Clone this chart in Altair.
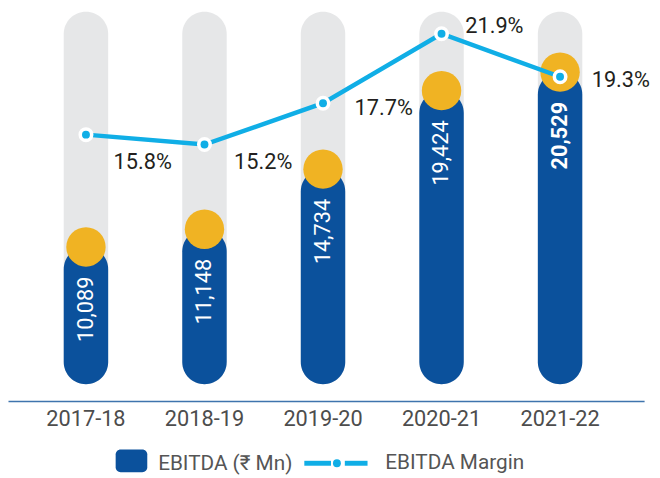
import altair as alt
import pandas as pd

years = ["2017-18", "2018-19", "2019-20", "2020-21", "2021-22"]
ebitda = [10089, 11148, 14734, 19424, 20529]
margin = [15.8, 15.2, 17.7, 21.9, 19.3]
margin_labels = ["15.8%", "15.2%", "17.7%", "21.9%", "19.3%"]

df = pd.DataFrame({"year": years, "ebitda": ebitda, "margin": margin, "mlabel": margin_labels})

FONT = "Roboto, Noto Sans, DejaVu Sans"
BLUE = "#0b519c"
YELLOW = "#f0b323"
GRAY = "#e6e7e8"
CYAN = "#10aee6"

W, H = 644, 395
BAR_W = 45
BAR_BASE = 1888   # value where the rounded bar ends sit (bar scale)
PILLAR_TOP = 24130

xenc = alt.X("year:N", sort=years,
             scale=alt.Scale(type="band", paddingInner=0, paddingOuter=0.1833, align=0.43),
             axis=alt.Axis(title=None, labelAngle=0, ticks=False, tickSize=0, grid=False,
                           domainColor="#3f74ad", domainWidth=1.5, labelFont=FONT,
                           labelFontSize=22, labelColor="#4d4d4d", labelPadding=8))

bscale = alt.Scale(domain=[885, 24189], nice=False, zero=False)
yb = alt.Y("ebitda:Q", scale=bscale, axis=None)
ym = alt.Y("margin:Q", scale=alt.Scale(domain=[-0.3, 23.28], nice=False, zero=False), axis=None)

base = alt.Chart(df)

pillar = base.mark_bar(width=BAR_W, cornerRadius=22.5, color=GRAY).encode(
    x=xenc, y=alt.Y(datum=PILLAR_TOP, scale=bscale, axis=None), y2=alt.datum(BAR_BASE))
bar = base.mark_bar(width=BAR_W, cornerRadius=22.5, color=BLUE).encode(
    x=xenc, y=yb, y2=alt.datum(BAR_BASE))
cap = base.mark_circle(size=1590, opacity=1, color=YELLOW).encode(x=xenc, y=yb)

blabel = base.transform_filter(alt.datum.year != "2021-22").mark_text(
    angle=270, align="right", baseline="middle", dx=-30, fontSize=22, font=FONT,
    color="white").encode(x=xenc, y=yb, text=alt.Text("ebitda:Q", format=","))
blabel_b = base.transform_filter(alt.datum.year == "2021-22").mark_text(
    angle=270, align="right", baseline="middle", dx=-30, fontSize=22, font=FONT,
    fontWeight="bold", color="white").encode(x=xenc, y=yb, text=alt.Text("ebitda:Q", format=","))

bars = alt.layer(pillar, bar, cap, blabel, blabel_b)

line = base.mark_line(color=CYAN, strokeWidth=4.5).encode(x=xenc, y=ym)
ring = base.mark_circle(size=230, color="white", opacity=1).encode(x=xenc, y=ym)
dot = base.mark_circle(size=64, color=CYAN, opacity=1).encode(x=xenc, y=ym)

offsets = {"2017-18": (28, 35), "2018-19": (30, 25), "2019-20": (32, 12),
           "2020-21": (24, -1), "2021-22": (32, 10)}
mlabels = []
for yr, (ddx, ddy) in offsets.items():
    mlabels.append(base.transform_filter(alt.datum.year == yr).mark_text(
        align="left", baseline="alphabetic", dx=ddx, dy=ddy, fontSize=22, font=FONT,
        color="#231f20").encode(x=xenc, y=ym, text="mlabel:N"))

lines = alt.layer(line, ring, dot, *mlabels)

one = alt.Data(values=[{"k": 0}])
leg_sq = alt.Chart(one).mark_rect(color=BLUE, cornerRadius=5).encode(
    x=alt.value(109), x2=alt.value(141), y=alt.value(444), y2=alt.value(467))
leg_t1 = alt.Chart(one).mark_text(align="left", baseline="alphabetic", fontSize=21, font=FONT,
                                  color="#555555", text="EBITDA (₹ Mn)").encode(
    x=alt.value(152), y=alt.value(465))
leg_l1 = alt.Chart(one).mark_rule(color=CYAN, strokeWidth=5).encode(
    x=alt.value(300), x2=alt.value(327), y=alt.value(458))
leg_l2 = alt.Chart(one).mark_rule(color=CYAN, strokeWidth=5).encode(
    x=alt.value(341), x2=alt.value(364), y=alt.value(458))
leg_dot = alt.Chart(one).mark_circle(size=64, color=CYAN, opacity=1).encode(
    x=alt.value(333), y=alt.value(458))
leg_t2 = alt.Chart(one).mark_text(align="left", baseline="alphabetic", fontSize=21, font=FONT,
                                  color="#555555", text="EBITDA Margin").encode(
    x=alt.value(382), y=alt.value(464))

chart = alt.layer(bars, lines, leg_sq, leg_t1, leg_l1, leg_l2, leg_dot, leg_t2).resolve_scale(
    y="independent").properties(
    width=W, height=H,
    autosize=alt.AutoSizeParams(type="none"),
    padding={"left": 0, "top": 0, "right": 8, "bottom": 75},
).configure_view(stroke=None)

chart.save("out.html", embed_options={"renderer": "svg", "actions": False})
